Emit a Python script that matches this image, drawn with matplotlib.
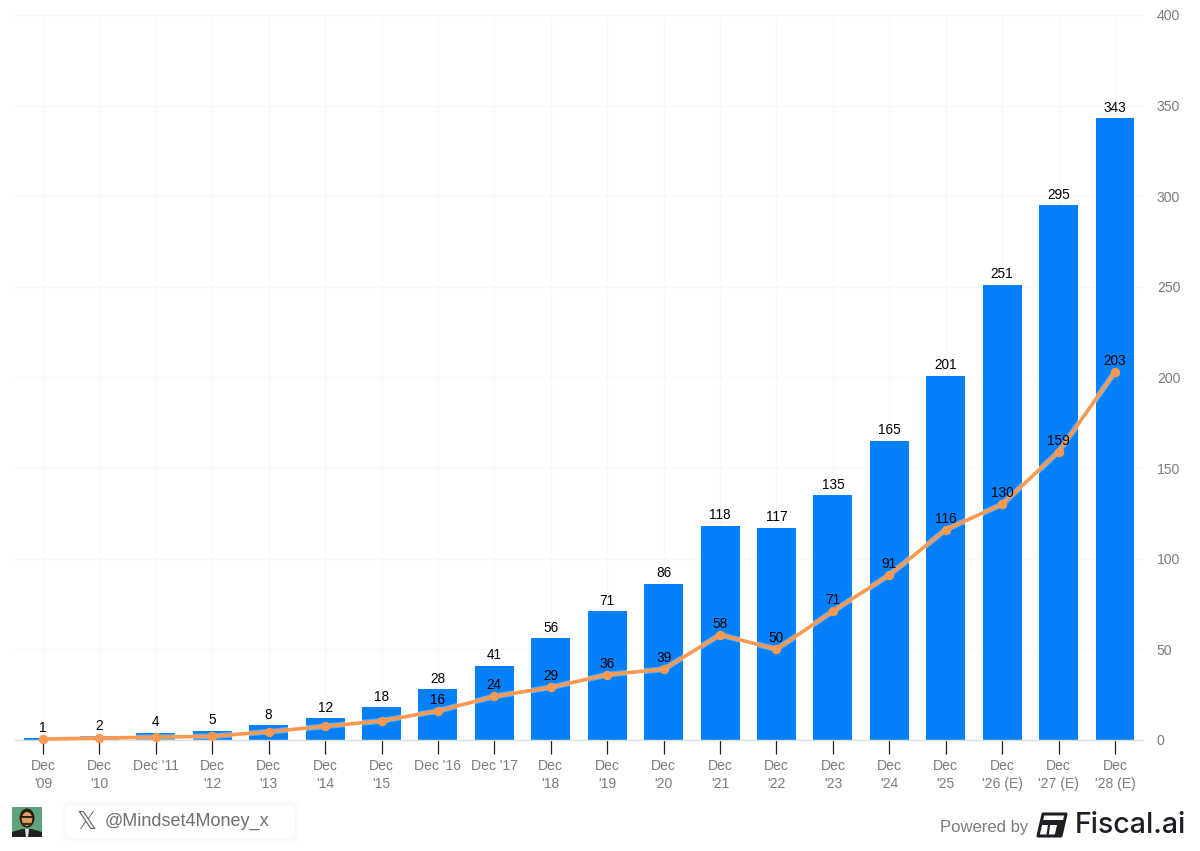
import matplotlib
matplotlib.use("Agg")
import matplotlib.pyplot as plt
from matplotlib.patches import FancyBboxPatch, Rectangle, Polygon, Ellipse

plt.rcParams['font.family'] = ['Liberation Sans', 'DejaVu Sans']

tick_labels = ["Dec\n'09", "Dec\n'10", "Dec '11", "Dec\n'12", "Dec\n'13", "Dec\n'14", "Dec\n'15",
               "Dec '16", "Dec '17", "Dec\n'18", "Dec\n'19", "Dec\n'20", "Dec\n'21", "Dec\n'22",
               "Dec\n'23", "Dec\n'24", "Dec\n'25", "Dec\n'26 (E)", "Dec\n'27 (E)", "Dec\n'28 (E)"]
bar_values = [1, 2, 4, 5, 8, 12, 18, 28, 41, 56, 71, 86, 118, 117, 135, 165, 201, 251, 295, 343]
line_values = [0.5, 1, 1.5, 2, 4.5, 7.5, 10.5, 16, 24, 29, 36, 39, 58, 50, 71, 91, 116, 130, 159, 203]
line_label_start = 7
y_ticks = [0, 50, 100, 150, 200, 250, 300, 350, 400]

W, H = 1200, 851
fig = plt.figure(figsize=(W / 100, H / 100), dpi=100, facecolor='white')
ax = fig.add_axes([15.0 / W, 1 - 739.9 / H, (1143.0 - 15.0) / W, (739.9 - 14.9) / H])
xs = list(range(len(bar_values)))

ax.set_xlim(-0.496, 19.496)
ax.set_ylim(0, 400)
ax.set_axisbelow(True)
ax.grid(True, color='#f8f8f8', linewidth=0.9)
ax.bar(xs, bar_values, width=0.69, color='#0580FB', zorder=2)
ax.plot(xs, line_values, color='#FFFFFF', alpha=0.35, linewidth=4.2, zorder=3, clip_on=False)
ax.plot(xs, line_values, color='#FA994F', linewidth=2.6, marker='o', markersize=6.8,
        markeredgewidth=0, zorder=4, clip_on=False)

for x, v in zip(xs, bar_values):
    ax.annotate(str(v), (x, v), xytext=(0, 7.6), textcoords='offset points', ha='center',
                va='center', fontsize=9.8, color='black', zorder=5)
for x, v in list(zip(xs, line_values))[line_label_start:]:
    ax.annotate(str(v), (x, v), xytext=(0, 8.0), textcoords='offset points', ha='center',
                va='center', fontsize=9.8, color='black', zorder=5)

for s in ['top', 'left', 'right']:
    ax.spines[s].set_visible(False)
ax.spines['bottom'].set_color('#dddddd')
ax.spines['bottom'].set_linewidth(1)
ax.set_xticks(xs)
ax.set_xticklabels(tick_labels, fontsize=10.1, color='#7c7c7c', linespacing=1.36)
ax.tick_params(axis='x', length=10, width=0.9, color='#222222', pad=3.9)
ax.yaxis.tick_right()
ax.set_yticks(y_ticks)
ax.set_yticklabels([str(t) for t in y_ticks], fontsize=10.1, color='#7c7c7c')
for lab in ax.get_yticklabels():
    lab.set_y(lab.get_position()[1])
ax.tick_params(axis='y', length=0, pad=10)

# Footer drawn in a pixel-coordinate overlay
ov = fig.add_axes([0, 0, 1, 1], facecolor='none')
ov.set_xlim(0, W)
ov.set_ylim(H, 0)
ov.axis('off')

# Handle pill with soft shadow
for grow, col in [(4, '#fdfdfd'), (2.5, '#fbfbfb'), (1, '#f8f8f8')]:
    ov.add_patch(FancyBboxPatch((66 - grow, 805 - grow), 229 + 2 * grow, 33 + 2 * grow,
                                boxstyle='round,pad=0,rounding_size=7', fc=col, ec='none'))
ov.add_patch(FancyBboxPatch((66, 805), 229, 33, boxstyle='round,pad=0,rounding_size=6',
                            fc='white', ec='none'))
ov.text(87, 822, '\U0001D54F', fontsize=18, color='#6a6a6a', ha='center', va='center',
        family='DejaVu Sans')
ov.text(105, 821.5, '@Mindset4Money_x', fontsize=12.95, color='#6f6f6f', ha='left', va='center')

# Avatar
ov.add_patch(Rectangle((12, 807), 30, 30, fc='#5FA37C', ec='none'))
ov.add_patch(Polygon([(12, 837), (12, 832), (22, 829), (32, 829), (42, 832), (42, 837)],
                     fc='#1f2420', ec='none'))
ov.add_patch(Polygon([(25, 829), (29, 829), (28, 837), (26, 837)], fc='#e8e8e8', ec='none'))
ov.add_patch(Ellipse((27, 818), 15, 19, fc='#2a1c12', ec='none'))
ov.add_patch(Ellipse((27, 819), 10.5, 14, fc='#D9A066', ec='none'))
ov.plot([22.5, 31.5], [817, 817], color='#2a1c12', lw=1.4)
ov.plot([24, 30], [824, 824], color='#4a2c18', lw=1.6)

# Powered by Fiscal.ai
ov.text(940, 827.5, 'Powered by', fontsize=12, color='#7c7c7c', ha='left', va='center')
ov.add_patch(Polygon([(1043, 814), (1066, 814), (1061, 836), (1038, 836)], fc='none',
                     ec='#1c1f24', lw=2.2, joinstyle='round'))
ov.add_patch(Polygon([(1042.5, 820), (1065, 820), (1064, 825), (1041.5, 825)], fc='#1c1f24', ec='none'))
ov.add_patch(Polygon([(1057, 825), (1063.5, 825), (1061, 836), (1054.5, 836)], fc='#1c1f24', ec='none'))
ov.plot([1049, 1047.5], [825, 836], color='#1c1f24', lw=1.6)
ov.text(1075, 825.5, 'Fiscal.ai', fontsize=20.6, color='#1c1f24', ha='left', va='center',
        family='Inter', fontweight='medium')

fig.savefig('out.png', dpi=100, facecolor='white')
